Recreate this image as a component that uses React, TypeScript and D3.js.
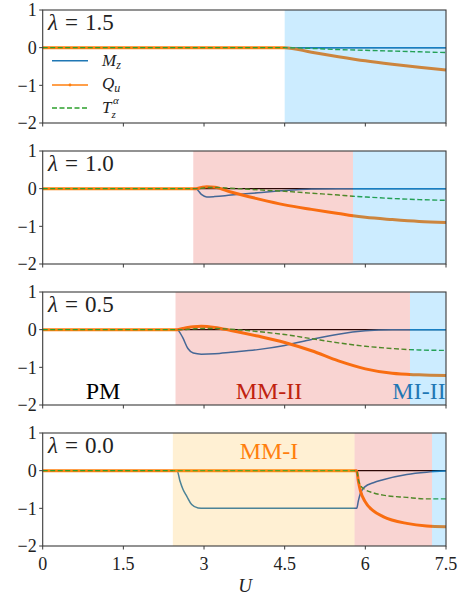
import React from "react";
import * as d3 from "d3";

// ---------- data ----------
const lambdas = ["1.5", "1.0", "0.5", "0.0"];
const xTicks = [0, 1.5, 3, 4.5, 6, 7.5];
const xTickLabels = ["0", "1.5", "3", "4.5", "6", "7.5"];
const yTicks = [1, 0, -1, -2];
const yTickLabels = ["1", "0", "\u22121", "\u22122"];

// panel 1 (λ = 1.5)
const U1 = [0, 4.5, 5.0, 5.5, 6.0, 6.5, 7.0, 7.5];
const Mz1 = [0, 0, 0, 0, 0, 0, 0, 0];
const Qu1 = [0, 0, -0.12, -0.24, -0.35, -0.44, -0.52, -0.59];
const Tz1 = [0, 0, -0.02, -0.05, -0.07, -0.09, -0.11, -0.13];

// panel 2 (λ = 1.0)
const U2 = [0, 2.85, 2.95, 3.05, 3.2, 3.5, 4.0, 4.5, 5.0, 5.5, 5.77, 6.0, 6.5, 7.0, 7.5];
const Mz2 = [0, 0, -0.15, -0.22, -0.21, -0.17, -0.11, -0.05, -0.01, 0, 0, 0, 0, 0, 0];
const Qu2 = [0, 0, 0.03, 0.05, 0.04, -0.09, -0.27, -0.43, -0.55, -0.66, -0.72, -0.76, -0.82, -0.87, -0.9];
const Tz2 = [0, 0, 0.01, 0.03, 0.03, 0.01, -0.03, -0.07, -0.12, -0.17, -0.2, -0.22, -0.26, -0.29, -0.31];

// panel 3 (λ = 0.5)
const U3 = [0, 2.5, 2.6, 2.7, 2.8, 2.95, 3.2, 3.5, 4.0, 4.5, 5.0, 5.5, 6.0, 6.5, 7.0, 7.5];
const Mz3 = [0, 0, -0.2, -0.5, -0.62, -0.65, -0.64, -0.6, -0.53, -0.42, -0.26, -0.12, -0.03, 0, 0, 0];
const Qu3 = [0, 0, 0.03, 0.06, 0.08, 0.09, 0.06, -0.02, -0.17, -0.34, -0.56, -0.83, -1.04, -1.16, -1.2, -1.22];
const Tz3 = [0, 0, 0, 0.01, 0.02, 0.03, 0.03, 0.01, -0.05, -0.13, -0.24, -0.35, -0.44, -0.5, -0.54, -0.55];

// panel 4 (λ = 0.0)
const U4 = [0, 2.5, 2.55, 2.61, 2.68, 2.77, 2.89, 3.0, 5.84, 5.87, 5.91, 5.99, 6.15, 6.33, 6.77, 7.14, 7.5];
const Mz4 = [0, 0, -0.26, -0.5, -0.68, -0.9, -0.99, -1, -1, -0.8, -0.59, -0.43, -0.32, -0.24, -0.1, -0.04, -0.01];
const Qu4 = [0, 0, 0, 0, 0, 0, 0, 0, 0, -0.28, -0.54, -0.81, -1.07, -1.22, -1.4, -1.47, -1.49];
const Tz4 = [0, 0, 0, 0, 0, 0, 0, 0, 0, -0.24, -0.39, -0.5, -0.59, -0.65, -0.71, -0.75, -0.75];

// phase regions [start, end, phase]
const regions1 = [[4.5, 7.5, "MI"]];
const regions2 = [[2.8, 5.77, "MM2"], [5.77, 7.5, "MI"]];
const regions3 = [[2.47, 6.83, "MM2"], [6.83, 7.5, "MI"]];
const regions4 = [[2.42, 5.8, "MM1"], [5.8, 7.24, "MM2"], [7.24, 7.5, "MI"]];

const panels = [
  { U: U1, Mz: Mz1, Qu: Qu1, Tz: Tz1, regions: regions1 },
  { U: U2, Mz: Mz2, Qu: Qu2, Tz: Tz2, regions: regions2 },
  { U: U3, Mz: Mz3, Qu: Qu3, Tz: Tz3, regions: regions3 },
  { U: U4, Mz: Mz4, Qu: Qu4, Tz: Tz4, regions: regions4 },
];

// ---------- styles ----------
const W = 460;
const Hgt = 597;
const X0 = 42.7;
const X1 = 446;
const panelTops = [10, 151, 292, 433];
const PH = 113;
const FONT = "'Liberation Serif', 'DejaVu Serif', serif";

const phaseFill: Record<string, string> = {
  MI: "#00a0ff",
  MM2: "#e1281e",
  MM1: "#ffb423",
};
const C_M = "#1f77b4";
const C_Q = "#ff7f0e";
const C_T = "#2ca02c";

const x = d3.scaleLinear().domain([0, 7.5]).range([X0, X1]);

function Panel({ idx }: { idx: number }) {
  const p = panels[idx];
  const top = panelTops[idx];
  const y = d3.scaleLinear().domain([-2, 1]).range([top + PH, top]);
  const mk = (vals: number[]) =>
    d3
      .line<number>()
      .x((_, i) => x(p.U[i]))
      .y((v) => y(v))
      .curve(d3.curveMonotoneX)(vals) || "";
  const bottom = top + PH;
  return (
    <g>
      <line x1={X0} x2={X1} y1={y(0)} y2={y(0)} stroke="#000" strokeWidth={1.3} />
      <path d={mk(p.Mz)} fill="none" stroke={C_M} strokeWidth={1.5} />
      <path d={mk(p.Qu)} fill="none" stroke={C_Q} strokeWidth={3} />
      <path d={mk(p.Tz)} fill="none" stroke={C_T} strokeWidth={1.4} strokeDasharray="5,2.5" />
      {p.regions.map((r, i) => (
        <rect
          key={i}
          x={x(r[0] as number)}
          y={top}
          width={x(r[1] as number) - x(r[0] as number)}
          height={PH}
          fill={phaseFill[r[2] as string]}
          fillOpacity={0.2}
        />
      ))}
      <rect x={X0} y={top} width={X1 - X0} height={PH} fill="none" stroke="#3a3a3a" strokeWidth={1.1} />
      {yTicks.map((t, i) => (
        <g key={"y" + i}>
          <line x1={X0 - 3.5} x2={X0} y1={y(t)} y2={y(t)} stroke="#3a3a3a" strokeWidth={1} />
          <text x={X0 - 6} y={y(t)} dy="0.35em" textAnchor="end" fontFamily={FONT} fontSize={18} fill="#222">
            {yTickLabels[i]}
          </text>
        </g>
      ))}
      {xTicks.map((t, i) => (
        <line key={"x" + i} x1={x(t)} x2={x(t)} y1={bottom} y2={bottom + 3.5} stroke="#3a3a3a" strokeWidth={1} />
      ))}
      <text x={48} y={top + 20} fontFamily={FONT} fontSize={23} fill="#222">
        <tspan fontStyle="italic">λ</tspan>
        <tspan dx={7}>=</tspan>
        <tspan dx={7}>{lambdas[idx]}</tspan>
      </text>
    </g>
  );
}

export default function App() {
  const bottom4 = panelTops[3] + PH;
  const legendRows = [60.7, 85, 108];
  return (
    <svg width={W} height={Hgt} style={{ position: "absolute", left: 0, top: 0, background: "#fff" }}>
      {panels.map((_, i) => (
        <Panel key={i} idx={i} />
      ))}
      {/* x tick labels */}
      {xTicks.map((t, i) => (
        <text key={i} x={x(t)} y={bottom4 + 24} textAnchor="middle" fontFamily={FONT} fontSize={18} fill="#222">
          {xTickLabels[i]}
        </text>
      ))}
      <text x={245} y={592} textAnchor="middle" fontFamily={FONT} fontSize={19} fontStyle="italic" fill="#222">
        U
      </text>
      {/* legend */}
      <g fontFamily={FONT} fontSize={17} fill="#222">
        <line x1={52} x2={88} y1={legendRows[0]} y2={legendRows[0]} stroke={C_M} strokeWidth={1.5} />
        <text x={102} y={legendRows[0] + 5} fontStyle="italic">
          M<tspan fontSize={12} dy={3}>z</tspan>
        </text>
        <line x1={52} x2={88} y1={legendRows[1]} y2={legendRows[1]} stroke={C_Q} strokeWidth={1.5} />
        <circle cx={70} cy={legendRows[1]} r={1.4} fill={C_Q} />
        <text x={102} y={legendRows[1] + 4} fontStyle="italic">
          Q<tspan fontSize={12} dy={3}>u</tspan>
        </text>
        <line x1={52} x2={88} y1={legendRows[2]} y2={legendRows[2]} stroke={C_T} strokeWidth={1.4} strokeDasharray="5,2.5" />
        <text x={102} y={legendRows[2] + 5} fontStyle="italic">
          T<tspan fontSize={11} dy={5}>z</tspan>
        </text>
        <text x={113} y={legendRows[2] - 4} fontStyle="italic" fontSize={11}>α</text>
      </g>
      {/* phase labels */}
      <g fontFamily={FONT} fontSize={24}>
        <text x={103} y={399} textAnchor="middle" fill="#000">PM</text>
        <text x={269} y={399} textAnchor="middle" fill="#c0220f">MM-II</text>
        <text x={419} y={399} textAnchor="middle" fill="#1f77b4">MI-II</text>
        <text x={269} y={459} textAnchor="middle" fill="#ff7f0e">MM-I</text>
      </g>
    </svg>
  );
}
